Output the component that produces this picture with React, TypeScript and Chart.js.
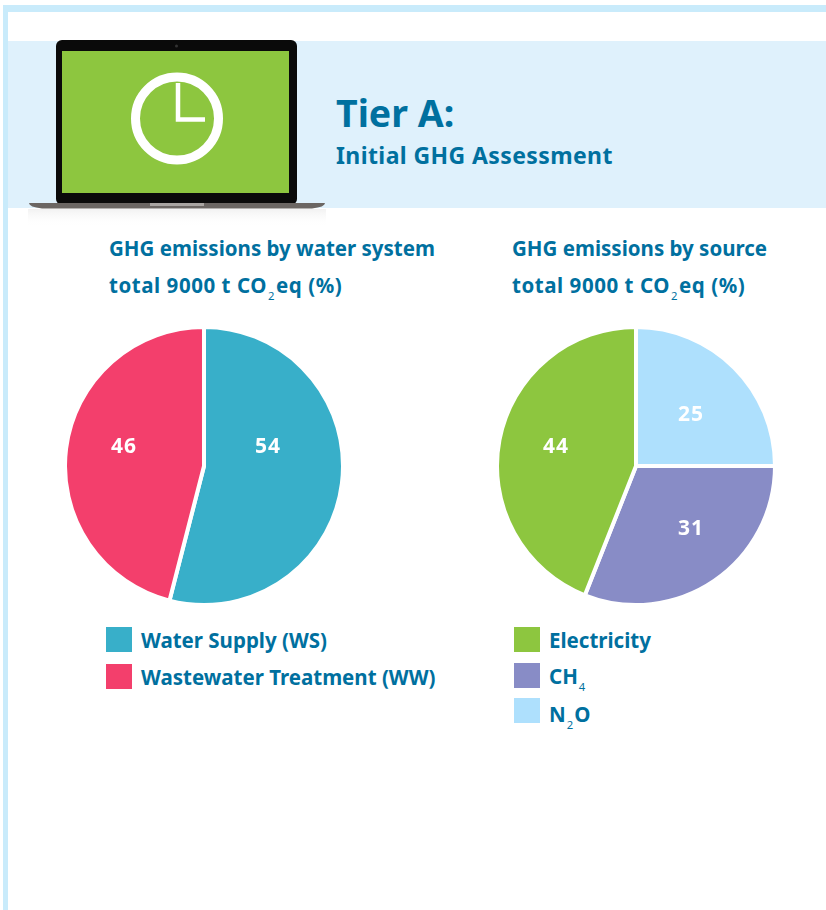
import React, { useEffect, useRef } from "react";
import { Chart, registerables } from "chart.js";

Chart.register(...registerables);

const FONT = "'Noto Sans', sans-serif";
const INK = "#00709f";

const systemLabels = ["Water Supply (WS)", "Wastewater Treatment (WW)"];
const systemValues = [54, 46];
const systemColors = ["#38afc9", "#f33f6c"];
const systemLabelOffsets = [[64, -20], [-80, -20]];

const sourceLabels = ["N₂O", "CH₄", "Electricity"];
const sourceValues = [25, 31, 44];
const sourceColors = ["#aee0fd", "#888cc6", "#8dc63f"];
const sourceLabelOffsets = [[55, -52], [55, 62], [-80, -20]];

const valueLabelPlugin = {
  id: "valueLabels",
  afterDatasetsDraw(chart: any, _args: any, opts: any) {
    const { ctx } = chart;
    const meta = chart.getDatasetMeta(0);
    const data = chart.data.datasets[0].data;
    ctx.save();
    ctx.fillStyle = "#ffffff";
    ctx.font = `700 21px ${FONT}`;
    (ctx as any).letterSpacing = "1px";
    ctx.textAlign = "center";
    ctx.textBaseline = "middle";
    meta.data.forEach((arc: any, i: number) => {
      const [dx, dy] = opts.offsets[i];
      ctx.fillText(String(data[i]), arc.x + dx, arc.y + dy + 1);
    });
    ctx.restore();
  },
};

function Pie({ labels, values, colors, offsets, left, top, size }: any) {
  const ref = useRef<HTMLCanvasElement>(null);
  useEffect(() => {
    const chart = new Chart(ref.current!, {
      type: "pie",
      data: {
        labels,
        datasets: [{ data: values, backgroundColor: colors, borderColor: "#ffffff", borderWidth: 4 }],
      },
      options: {
        responsive: false,
        animation: false,
        layout: { padding: 0 },
        plugins: {
          legend: { display: false },
          tooltip: { enabled: false },
          valueLabels: { offsets },
        } as any,
      },
      plugins: [valueLabelPlugin as any],
    });
    return () => chart.destroy();
  }, []);
  return (
    <canvas
      ref={ref}
      width={size}
      height={size}
      style={{ position: "absolute", left, top, width: size, height: size }}
    />
  );
}

function Sub({ text }: { text: string }) {
  const map: Record<string, string> = { "₂": "2", "₄": "4" };
  return (
    <>
      {text.split(/([₂₄])/).map((part, i) =>
        map[part] ? (
          <span
            key={i}
            style={{ fontSize: "0.55em", fontWeight: 400, position: "relative", top: "0.6em", margin: "0 1px" }}
          >
            {map[part]}
          </span>
        ) : (
          <span key={i}>{part}</span>
        ),
      )}
    </>
  );
}

function Text({ x, y, size, spacing = 0, children }: any) {
  return (
    <div
      style={{
        position: "absolute",
        left: x,
        top: y,
        fontFamily: FONT,
        fontWeight: 700,
        fontSize: size,
        letterSpacing: spacing,
        lineHeight: "30px",
        color: INK,
        whiteSpace: "nowrap",
      }}
    >
      {children}
    </div>
  );
}

function Legend({ labels, colors, x, tops, textTops }: any) {
  return (
    <>
      {labels.map((label: string, i: number) => (
        <React.Fragment key={label}>
          <div
            style={{
              position: "absolute",
              left: x,
              top: tops[i],
              width: 26,
              height: 25,
              background: colors[i],
            }}
          />
          <Text x={x + 35} y={textTops[i]} size={20.5}>
            <Sub text={label} />
          </Text>
        </React.Fragment>
      ))}
    </>
  );
}

function Laptop() {
  return (
    <svg width={826} height={240} style={{ position: "absolute", left: 0, top: 0 }}>
      <defs>
        <linearGradient id="shadow" x1="0" y1="0" x2="0" y2="1">
          <stop offset="0" stopColor="#e9e9e9" stopOpacity="0.6" />
          <stop offset="1" stopColor="#ffffff" stopOpacity="0" />
        </linearGradient>
      </defs>
      <rect x={28} y={209} width={298} height={18} fill="url(#shadow)" />
      <rect x={56} y={40} width={241} height={165} rx={6} fill="#0a0a0a" />
      <rect x={62} y={51} width={227} height={142} fill="#8dc63f" />
      <circle cx={176.5} cy={46} r={1.5} fill="#333" />
      <path d="M29 203 H325 Q325 207 312 208.5 H42 Q29 207 29 203 Z" fill="#6b6663" />
      <rect x={150} y={203} width={54} height={3} fill="#a9a5a2" />
      <circle cx={177} cy={118.5} r={41.5} fill="none" stroke="#ffffff" strokeWidth={9} />
      <path d="M178 83 V119.5 H205" fill="none" stroke="#ffffff" strokeWidth={4.5} />
    </svg>
  );
}

export default function App() {
  const title = (top: number, x: number, line1: string) => (
    <>
      <Text x={x} y={top} size={20.5}>{line1}</Text>
      <Text x={x} y={top + 37} size={20.5} spacing={0.55}><Sub text="total 9000 t CO₂eq (%)" /></Text>
    </>
  );
  return (
    <div style={{ position: "fixed", left: 0, top: 0, width: 826, height: 910, overflow: "hidden", background: "#fff" }}>
      <div style={{ position: "absolute", left: 3, top: 5, width: 823, height: 7, background: "#c9ebfb" }} />
      <div style={{ position: "absolute", left: 3, top: 5, width: 5, height: 905, background: "#c9ebfb" }} />
      <div style={{ position: "absolute", left: 8, top: 41, width: 818, height: 167, background: "#dff1fc" }} />
      <Laptop />
      <Text x={336} y={98} size={37.5}>Tier A:</Text>
      <Text x={336} y={140} size={23} spacing={0.4}>Initial GHG Assessment</Text>
      {title(233, 109, "GHG emissions by water system")}
      {title(233, 512, "GHG emissions by source")}
      <Pie labels={systemLabels} values={systemValues} colors={systemColors} offsets={systemLabelOffsets} left={63} top={325} size={282} />
      <Pie labels={sourceLabels} values={sourceValues} colors={sourceColors} offsets={sourceLabelOffsets} left={495} top={325} size={282} />
      <Legend labels={systemLabels} colors={systemColors} x={106} tops={[627, 664]} textTops={[625, 662]} />
      <Legend
        labels={[sourceLabels[2], sourceLabels[1], sourceLabels[0]]}
        colors={[sourceColors[2], sourceColors[1], sourceColors[0]]}
        x={514}
        tops={[627, 663, 698]}
        textTops={[625, 661, 699]}
      />
    </div>
  );
}
